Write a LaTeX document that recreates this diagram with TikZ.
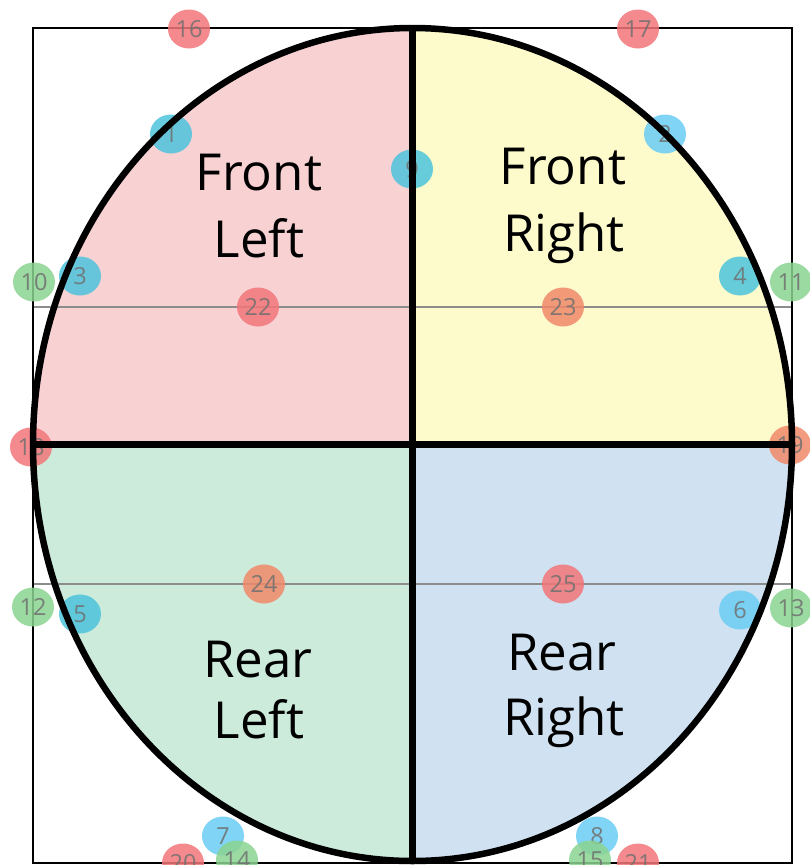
\documentclass[tikz,border=0pt]{standalone}
\usepackage{fontspec}
\setmainfont{Open Sans}
\usetikzlibrary{shapes.geometric}

\definecolor{flfill}{HTML}{F8D1D3}
\definecolor{frfill}{HTML}{FDFACC}
\definecolor{rlfill}{HTML}{CCEBDB}
\definecolor{rrfill}{HTML}{D0E2F1}
\definecolor{guide}{HTML}{8C8C8C}
\definecolor{numgray}{HTML}{707070}
\definecolor{dotred}{HTML}{F27679}
\definecolor{dotorange}{HTML}{F1896A}
\definecolor{dotblue}{HTML}{4DC4DC}
\definecolor{dotsky}{HTML}{6ACDF4}
\definecolor{dotgreen}{HTML}{8AD390}

\tikzset{
  zonelabel/.style={anchor=base, inner sep=0, font=\fontsize{51}{60}\selectfont},
  dot/.style={ellipse, minimum width=42pt, minimum height=39pt, inner sep=0,
    fill opacity=0.85, text opacity=0.85, text=numgray,
    font=\fontsize{23.5}{24}\selectfont},
  reddot/.style={dot, fill=dotred},
  orangedot/.style={dot, fill=dotorange},
  bluedot/.style={dot, fill=dotblue},
  skydot/.style={dot, fill=dotsky},
  greendot/.style={dot, fill=dotgreen},
  outline/.style={line width=6.5pt, black},
  frame/.style={line width=2pt, black},
  guideline/.style={line width=2pt, guide},
}

\begin{document}
\begin{tikzpicture}[x=1pt, y=-1pt]
\useasboundingbox (0,0) rectangle (809,865);

% key points of the layout
\coordinate (c) at (412.5,444.5);
\coordinate (frameTL) at (33,28);
\coordinate (frameBR) at (792,863);
\coordinate (top) at (412.5,28);
\coordinate (bottom) at (412.5,861);
\coordinate (left) at (33,444.5);
\coordinate (right) at (792,444.5);
\coordinate (g1L) at (33,307);
\coordinate (g1R) at (792,307);
\coordinate (g2L) at (33,584);
\coordinate (g2R) at (792,584);

% quadrant fills inside the oval
\begin{scope}
  \clip (c) ellipse [x radius=379.5, y radius=416.5];
  \fill[flfill] (frameTL) rectangle (c);
  \fill[frfill] (top) rectangle (right);
  \fill[rlfill] (left) rectangle (bottom);
  \fill[rrfill] (c) rectangle (frameBR);
\end{scope}

% guide lines and frame
\draw[guideline] (g1L) -- (g1R);
\draw[guideline] (g2L) -- (g2R);
\draw[frame] (frameTL) rectangle (frameBR);

% zone labels
\node[zonelabel] (fl1) at (259,190) {Front};
\node[zonelabel] (fl2) at (259,257) {Left};
\node[zonelabel] (fr1) at (563,184) {Front};
\node[zonelabel] (fr2) at (564,251) {Right};
\node[zonelabel] (rl1) at (258,677) {Rear};
\node[zonelabel] (rl2) at (259,738) {Left};
\node[zonelabel] (rr1) at (562,670) {Rear};
\node[zonelabel] (rr2) at (564,735) {Right};

% numbered markers
\node[bluedot] (p1) at (171,134) {1};
\node[skydot] (p2) at (665,134) {2};
\node[bluedot] (p3) at (80,276) {3};
\node[bluedot] (p4) at (740,276) {4};
\node[bluedot] (p5) at (80,614) {5};
\node[skydot] (p6) at (740,610) {6};
\node[skydot] (p7) at (223,836) {7};
\node[skydot] (p8) at (597,836) {8};
\node[bluedot] (p9) at (412,169) {9};
\node[greendot] (p10) at (34,282) {10};
\node[greendot] (p11) at (791,282) {11};
\node[greendot] (p12) at (33,607) {12};
\node[greendot] (p13) at (791,608) {13};
\node[greendot] (p14) at (237,860) {14};
\node[greendot] (p15) at (590,860) {15};
\node[reddot] (p16) at (189,29) {16};
\node[reddot] (p17) at (638,29) {17};
\node[reddot] (p18) at (31,447) {18};
\node[orangedot] (p19) at (790,445) {19};
\node[reddot] (p20) at (183,863) {20};
\node[reddot] (p21) at (638,863) {21};
\node[reddot] (p22) at (258,307) {22};
\node[orangedot] (p23) at (563,307) {23};
\node[orangedot] (p24) at (264,584) {24};
\node[reddot] (p25) at (563,584) {25};

% oval outline and dividing cross
\draw[outline] (c) ellipse [x radius=379.5, y radius=416.5];
\draw[outline] (top) -- (bottom);
\draw[outline] (left) -- (right);
\end{tikzpicture}
\end{document}
